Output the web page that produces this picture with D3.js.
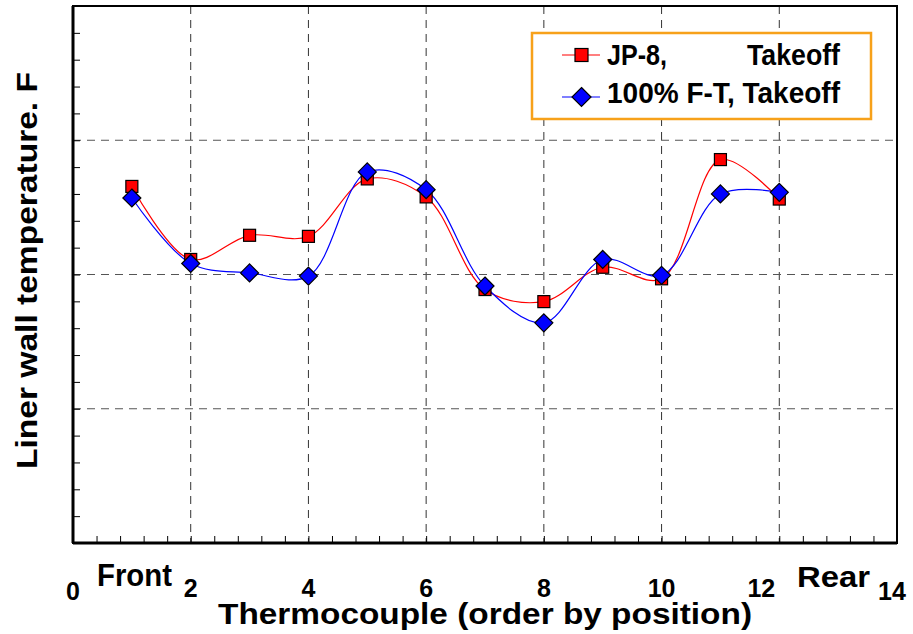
<!DOCTYPE html>
<html>
<head>
<meta charset="utf-8">
<script src="https://cdn.jsdelivr.net/npm/d3@7"></script>
<style>
  body { margin: 0; background: #fff; }
  text { font-family: "Liberation Sans", Arial, sans-serif; font-weight: bold; fill: #000; }
</style>
</head>
<body>
<div id="chart"></div>
<script>
// thermocouple positions
var positions = [1, 2, 3, 4, 5, 6, 7, 8, 9, 10, 11, 12];
// temperatures (y axis unlabelled in source, relative units)
var jp8 = [13.28, 10.56, 11.46, 11.42, 13.56, 12.89, 9.44, 8.99, 10.27, 9.84, 14.28, 12.81];
var ft100 = [12.85, 10.41, 10.06, 9.94, 13.82, 13.16, 9.57, 8.20, 10.56, 9.97, 13.00, 13.06];
var xTicks = [0, 2, 4, 6, 8, 10, 12, 14];
var seriesNames = ["JP-8,", "100% F-T, Takeoff"];

var W = 913, H = 634;
var margin = {top: 6, right: 16, bottom: 91, left: 73};
var width = W - margin.left - margin.right,
    height = H - margin.top - margin.bottom;

var svg = d3.select("#chart").append("svg")
    .attr("width", W).attr("height", H);

var g = svg.append("g")
    .attr("transform", "translate(" + margin.left + "," + margin.top + ")");

var x = d3.scaleLinear().domain([0, 14]).range([0, width]);
var y = d3.scaleLinear().domain([0, 20]).range([height, 0]);

// dashed grid
g.selectAll(".vgrid").data([2, 4, 6, 8, 10, 12]).enter().append("line")
    .attr("x1", function(d){ return x(d); }).attr("x2", function(d){ return x(d); })
    .attr("y1", 0).attr("y2", height)
    .attr("stroke", "#333").attr("stroke-width", 1).attr("stroke-dasharray", "8,6");
g.selectAll(".hgrid").data([5, 10, 15]).enter().append("line")
    .attr("x1", 0).attr("x2", width)
    .attr("y1", function(d){ return y(d); }).attr("y2", function(d){ return y(d); })
    .attr("stroke", "#555").attr("stroke-width", 1).attr("stroke-dasharray", "8,6");

// minor ticks (inside)
var xMinor = d3.range(0, 14.001, 0.4);
g.append("g")
    .attr("transform", "translate(0," + height + ")")
    .call(d3.axisBottom(x).tickValues(xMinor).tickSize(-7).tickFormat(""))
    .call(function(s){ s.select(".domain").remove(); s.selectAll("line").attr("stroke", "#000"); });
g.append("g")
    .call(d3.axisLeft(y).tickValues(d3.range(1, 20)).tickSize(-7).tickFormat(""))
    .call(function(s){ s.select(".domain").remove(); s.selectAll("line").attr("stroke", "#000"); });

// frame
g.append("rect").attr("x", 0).attr("y", 0).attr("width", width).attr("height", height)
    .attr("fill", "none").attr("stroke", "#000").attr("stroke-width", 2);
g.append("line").attr("x1", 0).attr("x2", width).attr("y1", height).attr("y2", height)
    .attr("stroke", "#000").attr("stroke-width", 3);
g.append("line").attr("x1", 0).attr("x2", 0).attr("y1", 0).attr("y2", height)
    .attr("stroke", "#000").attr("stroke-width", 3);

// x tick labels (12 and 14 nudged left as in the original)
var nudge = {12: -18, 14: -5};
g.selectAll(".xlab").data(xTicks).enter().append("text")
    .attr("x", function(d){ return x(d) + (nudge[d] || 0); })
    .attr("y", function(d){ return height + (d === 0 || d === 14 ? 57 : 54); })
    .attr("text-anchor", "middle")
    .attr("font-size", 25)
    .text(function(d){ return d; });
svg.append("text").attr("x", 97).attr("y", 586)
    .attr("font-size", 31).attr("textLength", 75).attr("lengthAdjust", "spacingAndGlyphs")
    .text("Front");
svg.append("text").attr("x", 797).attr("y", 587)
    .attr("font-size", 29).attr("textLength", 73).attr("lengthAdjust", "spacingAndGlyphs")
    .text("Rear");

// axis titles
svg.append("text")
    .attr("x", 218).attr("y", 624)
    .attr("font-size", 30).attr("textLength", 534).attr("lengthAdjust", "spacingAndGlyphs")
    .text("Thermocouple (order by position)");
svg.append("text")
    .attr("transform", "translate(37,271) rotate(-90)")
    .attr("x", -198)
    .attr("font-size", 29).attr("textLength", 397).attr("lengthAdjust", "spacingAndGlyphs")
    .text("Liner wall temperature. F");

// curves
var line = d3.line()
    .x(function(d){ return x(d[0]); })
    .y(function(d){ return y(d[1]); })
    .curve(d3.curveCatmullRom.alpha(0.5));

var redData = positions.map(function(p, i){ return [p, jp8[i]]; });
var blueData = positions.map(function(p, i){ return [p, ft100[i]]; });

g.append("path").datum(redData).attr("d", line)
    .attr("fill", "none").attr("stroke", "#ff0000").attr("stroke-width", 1.2);
g.append("path").datum(blueData).attr("d", line)
    .attr("fill", "none").attr("stroke", "#0000ff").attr("stroke-width", 1.2);

var sq = 12, dm = 9;
g.selectAll(".sq").data(redData).enter().append("rect")
    .attr("x", function(d){ return x(d[0]) - sq/2; })
    .attr("y", function(d){ return y(d[1]) - sq/2; })
    .attr("width", sq).attr("height", sq)
    .attr("fill", "#ff0000").attr("stroke", "#000").attr("stroke-width", 1.2);
g.selectAll(".dm").data(blueData).enter().append("path")
    .attr("d", function(d){
        var cx = x(d[0]), cy = y(d[1]);
        return "M" + cx + "," + (cy - dm) + "L" + (cx + dm) + "," + cy +
               "L" + cx + "," + (cy + dm) + "L" + (cx - dm) + "," + cy + "Z";
    })
    .attr("fill", "#0000ff").attr("stroke", "#000").attr("stroke-width", 1.2);

// legend
var lg = svg.append("g");
lg.append("rect").attr("x", 532).attr("y", 33).attr("width", 339).attr("height", 86)
    .attr("fill", "#fff").attr("stroke", "#f7a11a").attr("stroke-width", 2.5);
lg.append("line").attr("x1", 562).attr("x2", 600).attr("y1", 55).attr("y2", 55)
    .attr("stroke", "#ff0000").attr("stroke-width", 1.2);
lg.append("rect").attr("x", 581.5 - 6.5).attr("y", 55 - 6.5).attr("width", 13).attr("height", 13)
    .attr("fill", "#ff0000").attr("stroke", "#000").attr("stroke-width", 1.2);
lg.append("line").attr("x1", 562).attr("x2", 600).attr("y1", 97).attr("y2", 97)
    .attr("stroke", "#0000ff").attr("stroke-width", 1.2);
lg.append("path")
    .attr("d", "M581.5,87.5L591,97L581.5,106.5L572,97Z")
    .attr("fill", "#0000ff").attr("stroke", "#000").attr("stroke-width", 1.2);
lg.append("text").attr("x", 607).attr("y", 65).attr("font-size", 29)
    .attr("textLength", 60).attr("lengthAdjust", "spacingAndGlyphs").text(seriesNames[0]);
lg.append("text").attr("x", 747).attr("y", 65).attr("font-size", 29)
    .attr("textLength", 93).attr("lengthAdjust", "spacingAndGlyphs").text("Takeoff");
lg.append("text").attr("x", 607).attr("y", 103).attr("font-size", 29)
    .attr("textLength", 233).attr("lengthAdjust", "spacingAndGlyphs").text(seriesNames[1]);
</script>
</body>
</html>
